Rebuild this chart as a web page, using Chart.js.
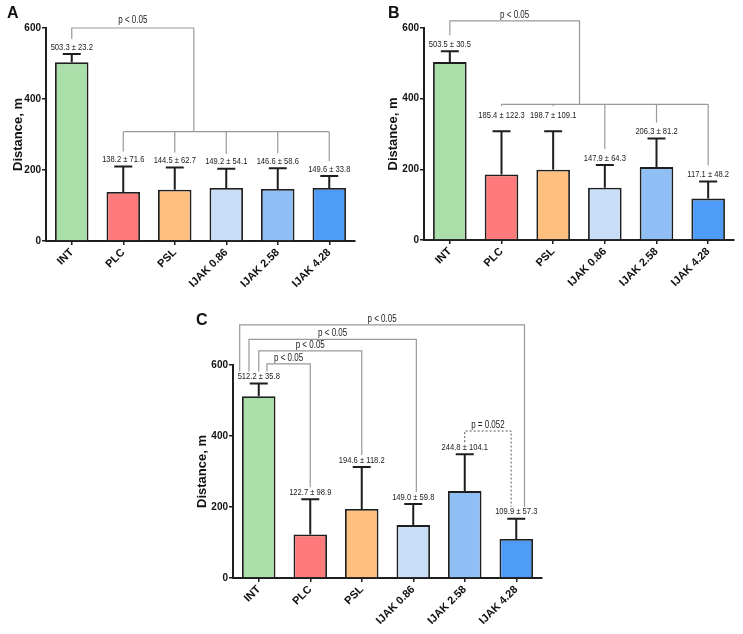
<!DOCTYPE html>
<html>
<head>
<meta charset="utf-8">
<script src="https://cdn.jsdelivr.net/npm/chart.js@4.4.1/dist/chart.umd.min.js"></script>
<style>
  body { margin: 0; background: #fff; width: 743px; height: 634px; position: relative; overflow: hidden; font-family: "Liberation Sans", Arial, sans-serif; }
  .panel { position: absolute; }
  .letter { position: absolute; font: bold 16px "Liberation Sans", Arial, sans-serif; color: #111; line-height: 16px; }
</style>
</head>
<body>
<div class="panel" style="left:0;top:0"><canvas id="chartA" width="372" height="300"></canvas></div>
<div class="panel" style="left:372px;top:0"><canvas id="chartB" width="371" height="300"></canvas></div>
<div class="panel" style="left:180px;top:290px"><canvas id="chartC" width="400" height="344"></canvas></div>
<div class="letter" style="left:7px;top:5px">A</div>
<div class="letter" style="left:388px;top:5px">B</div>
<div class="letter" style="left:196px;top:312px">C</div>

<script>
// Data
const categories = ["INT", "PLC", "PSL", "IJAK 0.86", "IJAK 2.58", "IJAK 4.28"];
const meanA = [503.3, 138.2, 144.5, 149.2, 146.6, 149.6];
const sdA = [23.2, 71.6, 62.7, 54.1, 58.6, 33.8];
const meanB = [503.5, 185.4, 198.7, 147.9, 206.3, 117.1];
const sdB = [30.5, 122.3, 109.1, 64.3, 81.2, 48.2];
const meanC = [512.2, 122.7, 194.6, 149.0, 244.8, 109.9];
const sdC = [35.8, 98.9, 118.2, 59.8, 104.1, 57.3];
const yTicks = [0, 200, 400, 600];
const pSig = "p < 0.05";
const pTrend = "p = 0.052";

const barColors = ["#aadfaa", "#ff7b7b", "#ffbf7f", "#c8ddf6", "#90bff6", "#4e9cf7"];
const ink = "#1e1e1e";
const baseFont = '"Liberation Sans", Arial, sans-serif';

// condensed text (no narrow font installed): squeeze horizontally
function fillNarrow(ctx, text, x, y, sx) {
    ctx.save();
    ctx.translate(x, y);
    ctx.scale(sx, 1);
    ctx.fillText(text, 0, 0);
    ctx.restore();
}

// error bars, value labels and significance brackets
const annotPlugin = {
    id: "annot",
    afterDatasetsDraw(chart, args, opts) {
        const ctx = chart.ctx;
        const x = chart.scales.x, y = chart.scales.y;
        const mean = chart.data.datasets[0].data;
        const sd = opts.sd;
        const lift = opts.lift || mean.map(() => 0);
        const step = x.getPixelForValue(1) - x.getPixelForValue(0);
        const cx = i => x.getPixelForValue(0) + i * step;
        const cap = i => y.getPixelForValue(mean[i] + sd[i]);
        const legEnd = i => cap(i) - opts.legGap - lift[i];
        const meta = chart.getDatasetMeta(0);

        ctx.save();
        // error bars (upper only)
        ctx.strokeStyle = ink;
        ctx.lineWidth = 2;
        meta.data.forEach((bar, i) => {
            const top = y.getPixelForValue(mean[i]);
            const c = cap(i);
            ctx.beginPath();
            ctx.moveTo(bar.x, top);
            ctx.lineTo(bar.x, c);
            ctx.moveTo(bar.x - 9, c);
            ctx.lineTo(bar.x + 9, c);
            ctx.stroke();
        });

        // value labels
        ctx.fillStyle = "#222";
        ctx.font = "9.5px " + baseFont;
        ctx.textAlign = "center";
        ctx.textBaseline = "middle";
        meta.data.forEach((bar, i) => {
            fillNarrow(ctx, mean[i].toFixed(1) + " \u00b1 " + sd[i].toFixed(1), bar.x, cap(i) - 7 - lift[i], 0.8);
        });

        // brackets
        ctx.font = "10px " + baseFont;
        ctx.textBaseline = "bottom";
        (opts.brackets || []).forEach(b => {
            ctx.strokeStyle = b.dashed ? "#555" : "#999";
            ctx.setLineDash(b.dashed ? [2, 2] : []);
            ctx.lineWidth = b.dashed ? 1 : 1.2;
            const yt = y.getPixelForValue(b.top);
            const x1 = cx(b.from + (b.dxFrom || 0));
            let textX;
            ctx.beginPath();
            if (b.group) {
                const xj = cx(b.join);
                const ym = y.getPixelForValue(b.mid);
                ctx.moveTo(x1, legEnd(b.from));
                ctx.lineTo(x1, yt);
                ctx.lineTo(xj, yt);
                ctx.lineTo(xj, ym);
                ctx.moveTo(cx(b.to[0]), ym);
                ctx.lineTo(cx(b.to[b.to.length - 1]), ym);
                b.to.forEach(t => {
                    ctx.moveTo(cx(t), ym);
                    ctx.lineTo(cx(t), legEnd(t));
                });
                textX = (x1 + xj) / 2;
            } else {
                const x2 = cx(b.to + (b.dxTo || 0));
                ctx.moveTo(x1, legEnd(b.from));
                ctx.lineTo(x1, yt);
                ctx.lineTo(x2, yt);
                ctx.lineTo(x2, legEnd(b.to));
                textX = (x1 + x2) / 2;
            }
            ctx.stroke();
            ctx.setLineDash([]);
            ctx.fillStyle = "#222";
            fillNarrow(ctx, b.text, textX, yt - opts.pGap, 0.8);
        });
        ctx.restore();
    }
};

function makeChart(id, means, box, annot) {
    return new Chart(document.getElementById(id), {
        type: "bar",
        data: {
            labels: categories,
            datasets: [{
                data: means,
                backgroundColor: barColors,
                borderColor: ink,
                borderWidth: 1.8,
                barPercentage: 0.65,
                categoryPercentage: 1
            }]
        },
        options: {
            responsive: false,
            animation: false,
            layout: { padding: { top: box.top, right: box.right, bottom: 0, left: 0 } },
            plugins: {
                legend: { display: false },
                tooltip: { enabled: false },
                annot: annot
            },
            scales: {
                x: {
                    afterFit: s => { s.height = box.xh; },
                    grid: { display: true, drawOnChartArea: false, offset: false, tickLength: 4, color: ink, lineWidth: 1.5 },
                    border: { display: true, color: ink, width: 2 },
                    ticks: {
                        autoSkip: false, minRotation: 45, maxRotation: 45, padding: 1,
                        color: "#111", font: { family: baseFont, size: 11, weight: "bold" }
                    }
                },
                y: {
                    min: 0,
                    max: yTicks[yTicks.length - 1],
                    afterFit: s => { s.width = box.yw; },
                    afterBuildTicks: s => { s.ticks = yTicks.map(v => ({ value: v })); },
                    grid: { display: true, drawOnChartArea: false, tickLength: 4, color: ink, lineWidth: 1.5 },
                    border: { display: true, color: ink, width: 2 },
                    ticks: {
                        padding: 1, color: "#111",
                        font: { family: baseFont, size: 10, weight: "bold" }
                    },
                    title: {
                        display: true, text: "Distance, m", color: "#111",
                        padding: { top: box.tp, bottom: 0 },
                        font: { family: baseFont, size: 13, weight: "bold" }
                    }
                }
            }
        },
        plugins: [annotPlugin]
    });
}

makeChart("chartA", meanA, { top: 28, right: 17, xh: 59, yw: 46, tp: 11 }, {
    sd: sdA, legGap: 15, pGap: 3,
    brackets: [{ group: true, from: 0, join: 2.37, to: [1, 2, 3, 4, 5], top: 600, mid: 308, text: pSig }]
});

makeChart("chartB", meanB, { top: 28, right: 9, xh: 60, yw: 52, tp: 14 }, {
    sd: sdB, legGap: 16, pGap: 1, lift: [0, 9, 9, 0, 0, 0],
    brackets: [{ group: true, from: 0, join: 2.51, to: [1, 2, 3, 4, 5], top: 620, mid: 384, text: pSig }]
});

makeChart("chartC", meanC, { top: 75, right: 38, xh: 56, yw: 53, tp: 15 }, {
    sd: sdC, legGap: 12, pGap: 1,
    brackets: [
        { from: 0, dxFrom: -0.37, to: 5, dxTo: 0.16, top: 713, text: pSig },
        { from: 0, dxFrom: -0.19, to: 3, dxTo: 0.06, top: 672, text: pSig },
        { from: 0, to: 2, top: 640, text: pSig },
        { from: 0, dxFrom: 0.16, to: 1, top: 603, text: pSig },
        { from: 4, to: 5, dxTo: -0.1, top: 414, text: pTrend, dashed: true }
    ]
});
</script>
</body>
</html>
